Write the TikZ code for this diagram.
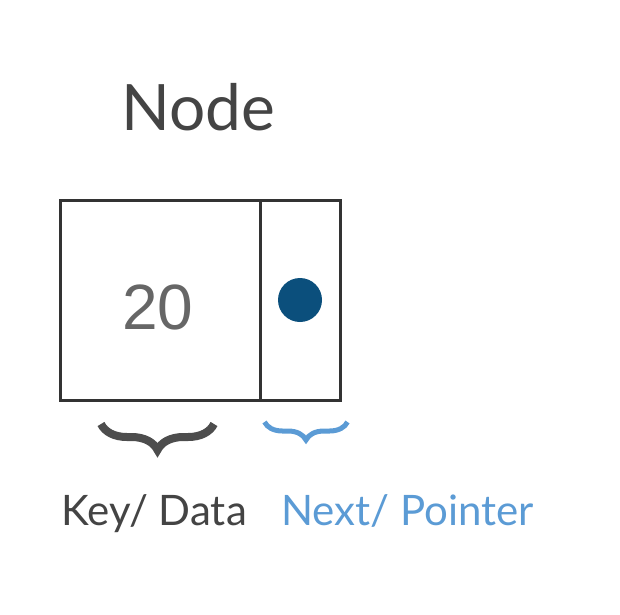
\documentclass[tikz,border=0pt]{standalone}
\usepackage{fontspec}
\setmainfont{Lato}
\newfontfamily\numfont{Liberation Sans}
\usetikzlibrary{positioning, decorations.pathreplacing}
\definecolor{boxgray}{HTML}{333333}
\definecolor{textgray}{HTML}{444444}
\definecolor{numgray}{HTML}{666666}
\definecolor{ptrblue}{HTML}{5B9BD5}
\definecolor{dotblue}{HTML}{0B4F7C}
\begin{document}
\begin{tikzpicture}[x=1pt,y=-1pt]
\tikzstyle{every node}=[inner sep=0pt, outer sep=0pt]
\tikzstyle{cell}=[draw=boxgray, line width=3pt, minimum height=200pt]
\tikzstyle{caption}=[anchor=base, font=\fontsize{42}{42}\selectfont]
\useasboundingbox (0,0) rectangle (620,614);

\node[anchor=base, text=textgray, font=\fontsize{64}{64}\selectfont] (title) at (198,130) {Node};
\node[cell, minimum width=200pt] (key) at (160,300) {};
\node[cell, minimum width=80pt, right=0pt of key] (next) {};
\node[text=numgray, font=\numfont\fontsize{64}{64}\selectfont] (val) at ([shift={(-2,7)}]key.center) {20};
\node[circle, fill=dotblue, minimum size=44pt] (dot) at (next.center) {};

% braces under the two cells
\coordinate (kl) at (101,424);
\coordinate (kr) at (214,424);
\coordinate (nl) at (264.5,422);
\coordinate (nr) at (347.5,422);
\draw[decorate, decoration={brace, mirror, amplitude=26pt}, line width=8pt, textgray!95] (kl) -- (kr);
\draw[decorate, decoration={brace, mirror, amplitude=18pt}, line width=5pt, ptrblue] (nl) -- (nr);

\node[caption, text=textgray] (keylbl) at (154,525) {Key/ Data};
\node[caption, text=ptrblue] (nextlbl) at (407.5,525) {Next/ Pointer};
\end{tikzpicture}
\end{document}
